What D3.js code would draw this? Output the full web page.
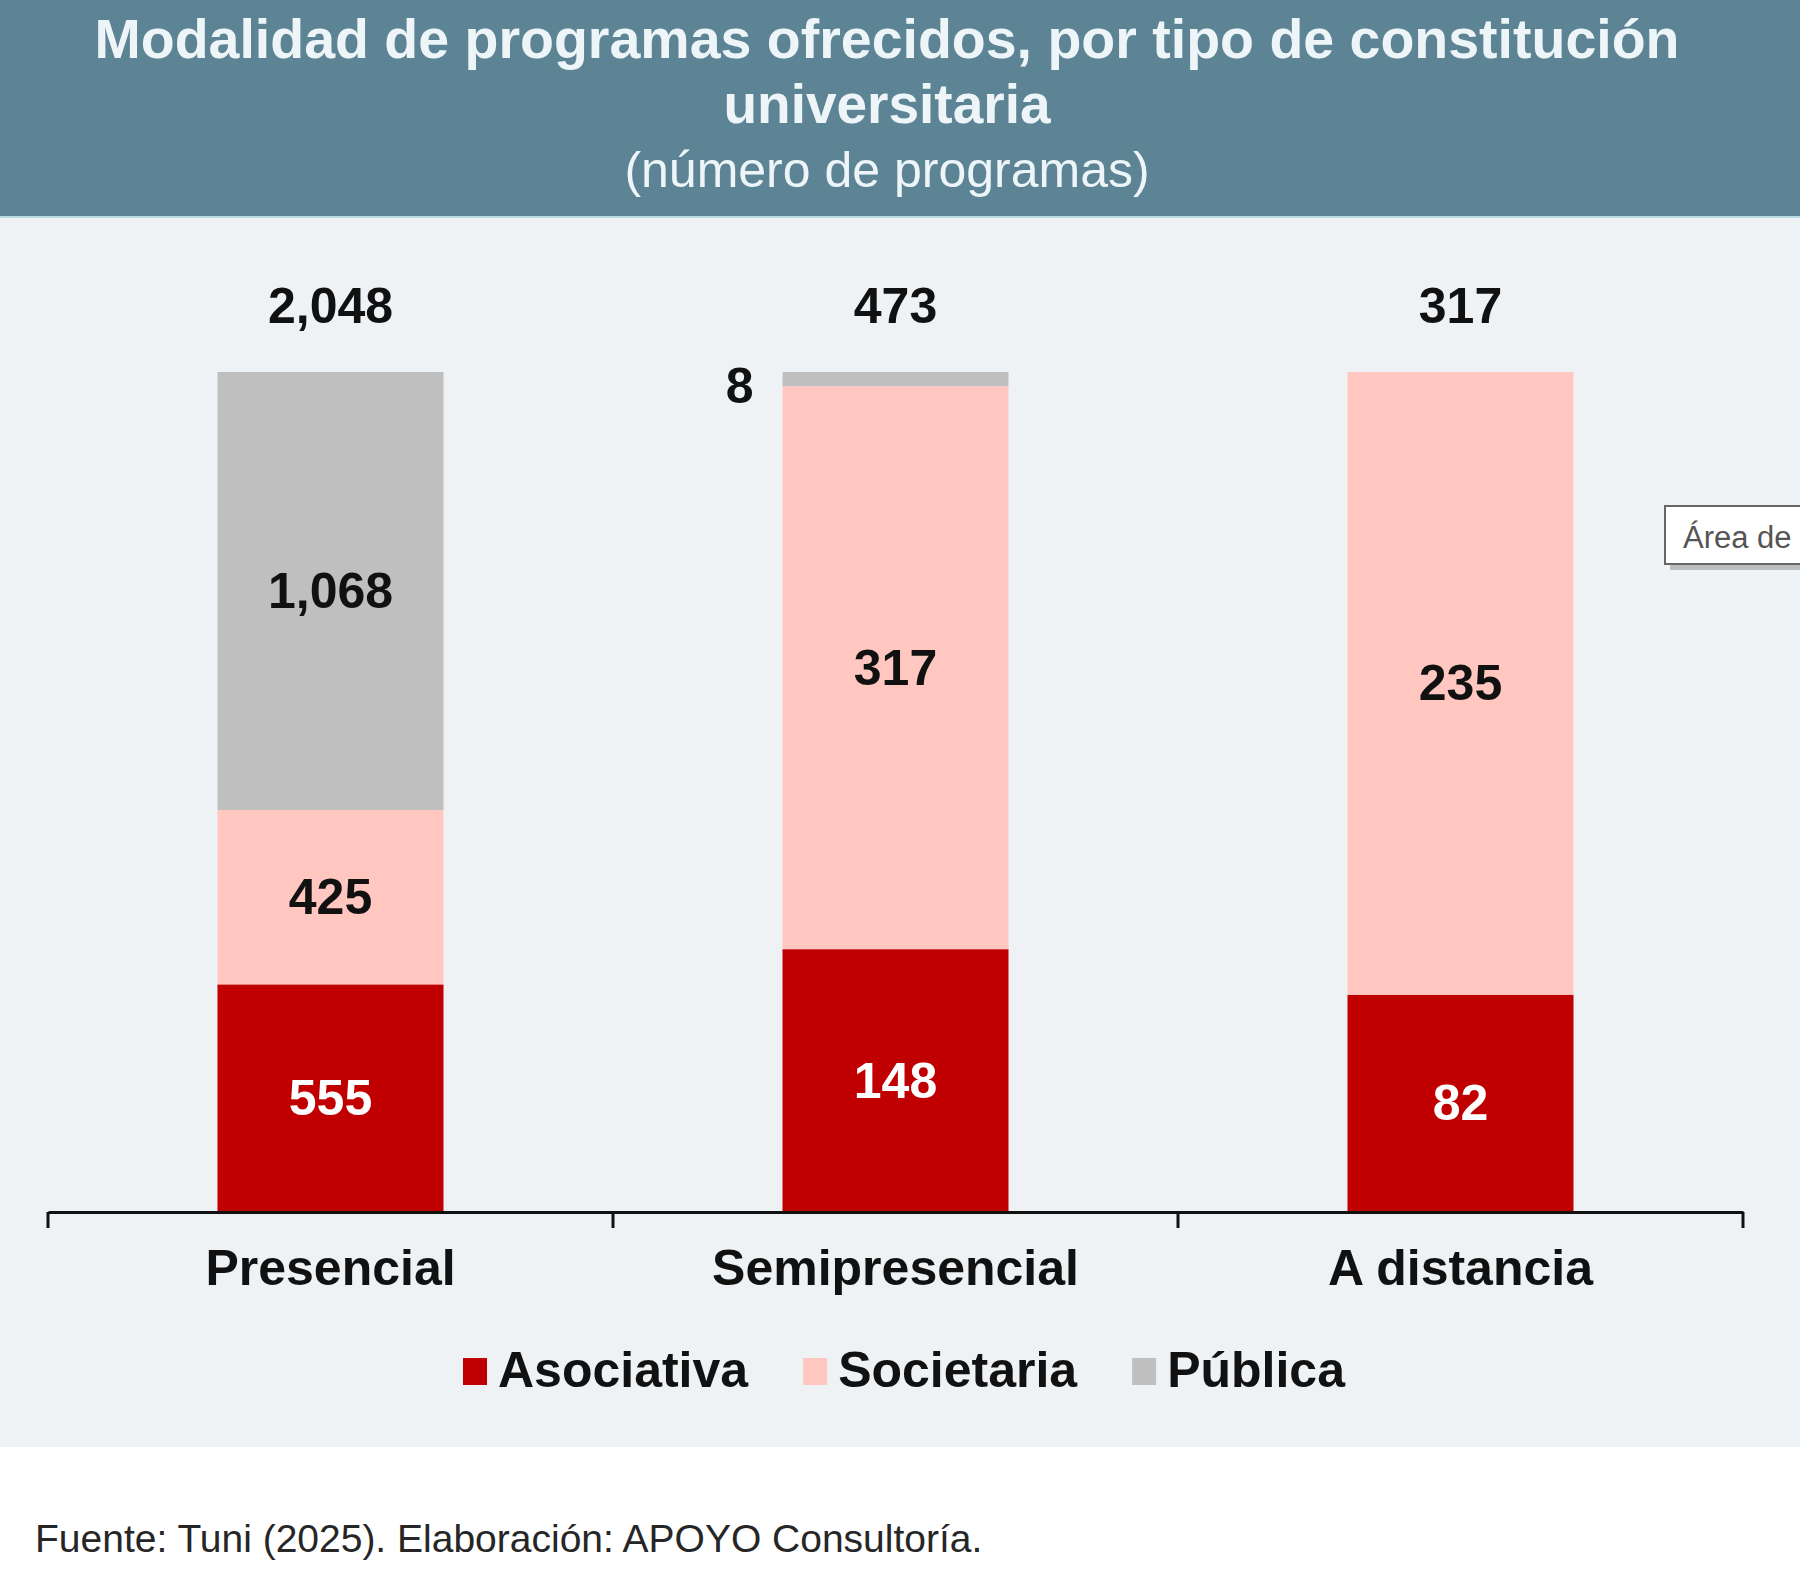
<!DOCTYPE html>
<html>
<head>
<meta charset="utf-8">
<script src="https://cdn.jsdelivr.net/npm/d3@7"></script>
<style>
  body { margin: 0; background: #fff; }
  text { font-family: "Liberation Sans", Arial, sans-serif; }
</style>
</head>
<body>
<div id="chart"></div>
<script>
// data
var modalidades = ["Presencial", "Semipresencial", "A distancia"];
var tipos = ["Asociativa", "Societaria", "Pública"];
var asociativa = [555, 148, 82];
var societaria = [425, 317, 235];
var publica = [1068, 8, 0];
var totales = [2048, 473, 317];
var colores = ["#c00000", "#ffc7c0", "#bfbfbf"];

var W = 1800, H = 1584;

var svg = d3.select("#chart").append("svg")
    .attr("width", W)
    .attr("height", H);

// fondos
svg.append("rect").attr("width", W).attr("height", H).attr("fill", "#fff");
svg.append("rect").attr("y", 217).attr("width", W).attr("height", 1230).attr("fill", "#eef2f5");
svg.append("rect").attr("width", W).attr("height", 217).attr("fill", "#5d8494");
svg.append("line").attr("x1", 0).attr("x2", W).attr("y1", 217).attr("y2", 217)
    .attr("stroke", "#b9dbe3").attr("stroke-width", 2);

// titulo
var tx = 887;
svg.append("text").attr("x", tx).attr("y", 58).attr("text-anchor", "middle")
    .attr("font-size", 55.5).attr("font-weight", "bold").attr("fill", "#eef5f9")
    .text("Modalidad de programas ofrecidos, por tipo de constitución");
svg.append("text").attr("x", tx).attr("y", 123).attr("text-anchor", "middle")
    .attr("font-size", 55).attr("font-weight", "bold").attr("fill", "#eef5f9")
    .text("universitaria");
svg.append("text").attr("x", tx).attr("y", 187).attr("text-anchor", "middle")
    .attr("font-size", 50).attr("fill", "#eef5f9")
    .text("(número de programas)");

// escalas
var x = d3.scaleBand()
    .domain(modalidades)
    .range([48, 1743])
    .paddingInner(0.6)
    .paddingOuter(0.3);

var y = d3.scaleLinear()
    .domain([0, 1])
    .range([1212, 372]);

var filas = modalidades.map(function (m, i) {
    return { modalidad: m, Asociativa: asociativa[i], Societaria: societaria[i], "Pública": publica[i], total: totales[i] };
});

var stack = d3.stack().keys(tipos)
    .value(function (d, key) { return d[key] / d.total; });
var series = stack(filas);

var g = svg.append("g");

series.forEach(function (s, si) {
    g.selectAll(".bar" + si)
        .data(s)
        .enter()
        .append("rect")
        .attr("x", function (d) { return x(d.data.modalidad); })
        .attr("y", function (d) { return y(d[1]); })
        .attr("width", x.bandwidth())
        .attr("height", function (d) { return y(d[0]) - y(d[1]); })
        .attr("fill", colores[si]);
});

// etiquetas de segmentos
series.forEach(function (s, si) {
    s.forEach(function (d) {
        var v = d.data[s.key];
        if (v <= 0) return;
        var cx = x(d.data.modalidad) + x.bandwidth() / 2;
        var cy = (y(d[0]) + y(d[1])) / 2;
        var small = (y(d[0]) - y(d[1])) < 40;
        g.append("text")
            .attr("x", small ? x(d.data.modalidad) - 29 : cx)
            .attr("y", small ? cy + 24 : cy + 17)
            .attr("text-anchor", small ? "end" : "middle")
            .attr("font-size", 50)
            .attr("font-weight", "bold")
            .attr("fill", si === 0 ? "#fff" : "#111")
            .text(d3.format(",")(v));
    });
});

// totales
g.selectAll(".total")
    .data(filas)
    .enter()
    .append("text")
    .attr("x", function (d) { return x(d.modalidad) + x.bandwidth() / 2; })
    .attr("y", 323)
    .attr("text-anchor", "middle")
    .attr("font-size", 50)
    .attr("font-weight", "bold")
    .attr("fill", "#111")
    .text(function (d) { return d3.format(",")(d.total); });

// eje
var axis = svg.append("g")
    .attr("transform", "translate(0,1212)")
    .call(d3.axisBottom(x).tickSize(0).tickPadding(0).tickSizeOuter(0));
axis.select(".domain").attr("stroke", "#111").attr("stroke-width", 3);
axis.selectAll(".tick text")
    .attr("y", 73)
    .attr("dy", 0)
    .attr("font-size", 50)
    .attr("font-weight", "bold")
    .attr("font-family", "Liberation Sans, Arial, sans-serif")
    .attr("fill", "#111");

var bordes = modalidades.map(function (m) { return x(m) - x.step() * x.paddingInner() / 2; });
bordes.push(x.range()[1]);
axis.selectAll(".borde")
    .data(bordes)
    .enter()
    .append("line")
    .attr("x1", function (d) { return d; })
    .attr("x2", function (d) { return d; })
    .attr("y1", 0)
    .attr("y2", 16)
    .attr("stroke", "#111")
    .attr("stroke-width", 3);

// leyenda
var ley = svg.append("g");
var lx = 0;
var items = [];
tipos.forEach(function (t, i) {
    var it = ley.append("g");
    it.append("rect").attr("x", 0).attr("y", 1358).attr("width", 24).attr("height", 27).attr("fill", colores[i]);
    var txt = it.append("text").attr("x", 35).attr("y", 1387)
        .attr("font-size", 50).attr("font-weight", "bold").attr("fill", "#111").text(t);
    var w = 35 + txt.node().getComputedTextLength();
    items.push({ node: it, w: w });
});
var gap = 55;
var totalW = d3.sum(items, function (d) { return d.w; }) + gap * (items.length - 1);
lx = 904 - totalW / 2;
items.forEach(function (d) {
    d.node.attr("transform", "translate(" + lx + ",0)");
    lx += d.w + gap;
});

// fuente
svg.append("text").attr("x", 35).attr("y", 1552)
    .attr("font-size", 39).attr("fill", "#262626")
    .text("Fuente: Tuni (2025). Elaboración: APOYO Consultoría.");

// tooltip de la captura
var tip = svg.append("g");
tip.append("rect").attr("x", 1670).attr("y", 512).attr("width", 140).attr("height", 58).attr("fill", "#9a9a9a").attr("opacity", 0.6);
tip.append("rect").attr("x", 1665).attr("y", 506).attr("width", 140).attr("height", 58)
    .attr("fill", "#fff").attr("stroke", "#666").attr("stroke-width", 2);
tip.append("text").attr("x", 1683).attr("y", 548)
    .attr("font-size", 31).attr("fill", "#555")
    .attr("font-family", "DejaVu Sans, sans-serif")
    .text("Área de");
</script>
</body>
</html>
